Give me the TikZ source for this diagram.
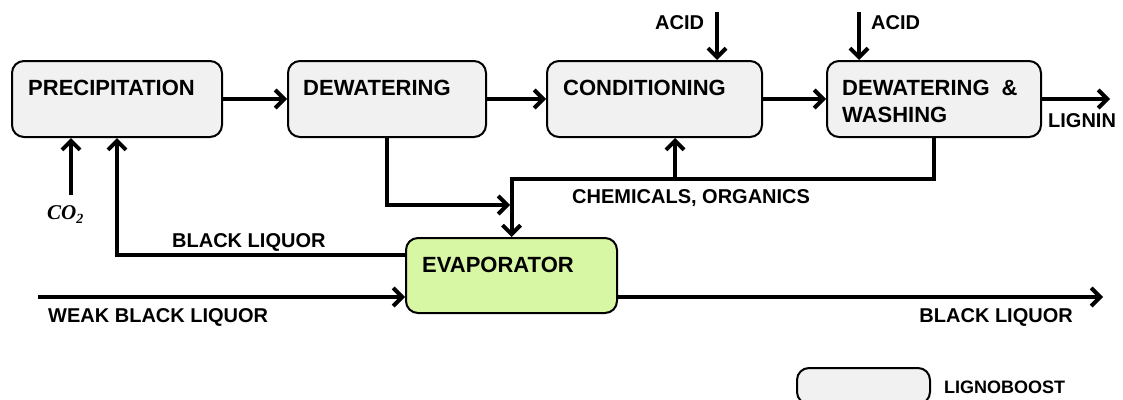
\documentclass[tikz,border=0pt]{standalone}
\usepackage{fontspec}
\setmainfont{Liberation Sans}
\newfontfamily\serifmath{Liberation Serif}
\usetikzlibrary{arrows.meta}
\definecolor{boxgray}{RGB}{241,241,241}
\definecolor{evapgreen}{RGB}{216,247,164}
\begin{document}
\begin{tikzpicture}[x=1pt,y=-1pt,
  box/.style={draw=black, line width=2pt, rounded corners=12pt, fill=boxgray, inner sep=0pt},
  conn/.style={line width=4pt, -{Straight Barb[length=9pt,width=18pt]}},
  lbl/.style={font=\fontsize{22}{28}\selectfont\bfseries, anchor=base west, inner sep=0pt},
  slbl/.style={font=\fontsize{20}{24}\selectfont\bfseries, anchor=base west, inner sep=0pt},
  tlbl/.style={font=\fontsize{18}{22}\selectfont\bfseries, anchor=base west, inner sep=0pt},
  mlbl/.style={font=\serifmath\fontsize{21}{24}\selectfont\bfseries\itshape, anchor=base west, inner sep=0pt}]
\useasboundingbox[fill=white] (0,0) rectangle (1123,399);

% boxes
\node[box, minimum width=210pt, minimum height=76pt] (prec) at (117,99) {};
\node[box, minimum width=198pt, minimum height=76pt] (dew) at (387,99) {};
\node[box, minimum width=215pt, minimum height=76pt] (cond) at (654.5,99) {};
\node[box, minimum width=214pt, minimum height=76pt] (dw) at (934,99) {};
\node[box, fill=evapgreen, minimum width=211pt, minimum height=75pt] (evap) at (511.5,275.5) {};
\node[box, minimum width=133pt, minimum height=36pt] (legend) at (863.5,386) {};

% box labels
\node[lbl] (tprec) at (28,95) {PRECIPITATION};
\node[lbl] (tdew) at (303,95) {DEWATERING};
\node[lbl] (tcond) at (563,95) {CONDITIONING};
\node[lbl] (tdw1) at (842,95) {DEWATERING\hspace{12pt}\&};
\node[lbl] (tdw2) at (842,122) {WASHING};
\node[lbl] (tevap) at (422,272) {EVAPORATOR};

% coordinates
\coordinate (acid1) at (717,12);
\coordinate (acid2) at (859,12);
\coordinate (lig) at (1110,99);
\coordinate (co2) at (71,195);
\coordinate (j1) at (387,205);
\coordinate (j1e) at (510,205);
\coordinate (j2) at (934,179);
\coordinate (j3) at (511.5,179);
\coordinate (chem) at (675,179);
\coordinate (bl) at (406,255);
\coordinate (wbl) at (38,297);
\coordinate (blo) at (1103,297);

% connectors
\draw[conn] (prec.east) -- (dew.west);
\draw[conn] (dew.east) -- (cond.west);
\draw[conn] (cond.east) -- (dw.west);
\draw[conn] (dw.east) -- (lig);
\draw[conn] (acid1) -- (acid1 |- cond.north);
\draw[conn] (acid2) -- (acid2 |- dw.north);
\draw[conn] (co2) -- (co2 |- prec.south);
\draw[conn] (dew.south) -- (j1) -- (j1e);
\draw[conn] (dw.south) -- (j2) -- (j3) -- (evap.north);
\draw[conn] (chem) -- (chem |- cond.south);
\draw[conn] (bl) -| (prec.south);
\draw[conn] (wbl) -- (evap.west |- wbl);
\draw[conn] (evap.east |- blo) -- (blo);

% stream labels
\node[slbl] (tacid1) at (655,29) {ACID};
\node[slbl] (tacid2) at (871,29) {ACID};
\node[slbl] (tlig) at (1048,127) {LIGNIN};
\node[slbl] (tchem) at (572,203) {CHEMICALS, ORGANICS};
\node[slbl] (tbl) at (172,247) {BLACK LIQUOR};
\node[slbl] (twbl) at (48,322) {WEAK BLACK LIQUOR};
\node[slbl, anchor=base east] (tblo) at (1073,322) {BLACK LIQUOR};
\node[tlbl] (tleg) at (944,393) {LIGNOBOOST};
\node[mlbl] (tco2) at (47,219) {CO\raisebox{-4pt}{\fontsize{14}{16}\selectfont 2}};
\end{tikzpicture}
\end{document}
